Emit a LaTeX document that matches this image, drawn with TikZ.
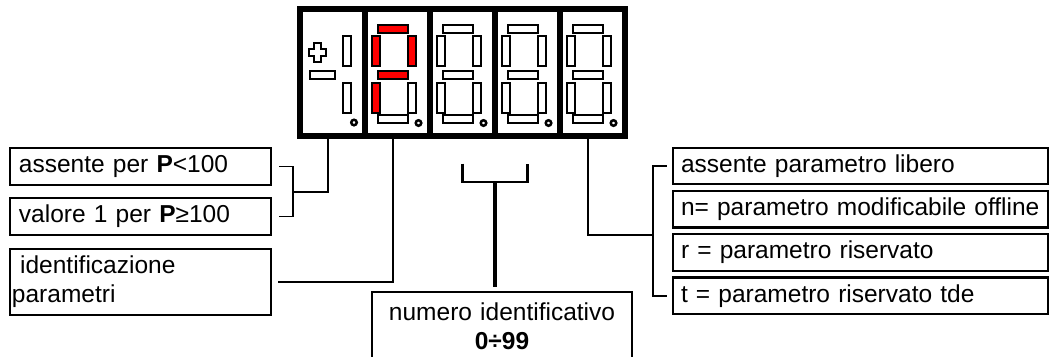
\documentclass[tikz,border=0pt]{standalone}
\usepackage{fontspec}
\setmainfont{Liberation Sans}
\usetikzlibrary{positioning}

\begin{document}
\begin{tikzpicture}[x=0.4pt, y=-0.4pt,
        digit/.style={rectangle, draw, line width=2.1pt, minimum width=26pt, minimum height=50.8pt, inner sep=0pt},
        seg/.style={draw, line width=0.85pt, fill=white},
        segon/.style={seg, fill=red},
        dot/.style={draw, line width=1pt, fill=white},
        note/.style={rectangle, draw, line width=0.9pt, align=left, inner ysep=0pt, font=\fontsize{9.8}{11.6}\selectfont},
        leftnote/.style={note, text width=97.2pt, inner xsep=3.6pt, minimum height=14.8pt},
        rightnote/.style={note, text width=143.6pt, inner xsep=3.2pt, minimum height=14.6pt},
        wire/.style={line width=0.7pt}
    ]
        \useasboundingbox (0,0) rectangle (1050,356);
        \fill[white] (0,0) rectangle (1050,356);

        % Display
        \foreach \cx [count=\i] in {332.5,397.5,462.5,527.5,592.5}
            \node[digit] (dg\i) at (\cx,72.5) {};

        % sign digit
        \draw[seg, line width=1.1pt] (314,43) -- (321,43) -- (321,49) -- (326,49) -- (326,56) -- (321,56) -- (321,62)
            -- (314,62) -- (314,56) -- (309,56) -- (309,49) -- (314,49) -- cycle;
        \draw[seg] (310,71) rectangle (335,79);
        \draw[seg] (343,36) rectangle (351,66);
        \draw[seg] (343,83) rectangle (351,113);
        \draw[dot] (354,122.5) circle (1.1pt);

        % letter P
        \draw[segon] (378,25) rectangle (408,33);
        \draw[segon] (372,36) rectangle (380,66);
        \draw[segon] (408,36) rectangle (416,66);
        \draw[segon] (378,71) rectangle (408,79);
        \draw[segon] (372,83) rectangle (380,113);
        \draw[seg] (408,83) rectangle (416,113);
        \draw[seg] (378,115) rectangle (408,123);
        \draw[dot] (418.5,123) circle (1.1pt);

        % blank digits
        \foreach \l in {430,495,560} {
            \draw[seg] (\l+13,25) rectangle (\l+43,33);
            \draw[seg] (\l+7,36) rectangle (\l+15,66);
            \draw[seg] (\l+43,36) rectangle (\l+51,66);
            \draw[seg] (\l+13,71) rectangle (\l+43,79);
            \draw[seg] (\l+7,83) rectangle (\l+15,113);
            \draw[seg] (\l+43,83) rectangle (\l+51,113);
            \draw[seg] (\l+13,115) rectangle (\l+43,123);
            \draw[dot] (\l+53.5,123) circle (1.1pt);
        }

        % Nodes
        \node[leftnote] (pA) at (140.5,166.5) {assente per \textbf{P}<100};
        \node[leftnote, below=4.3pt of pA] (pB) {valore 1 per \textbf{P}≥100};
        \node[note, text width=102.8pt, inner xsep=0.8pt, minimum height=26.4pt, below=4.7pt of pB] (pC)
            {\ identificazione\\parametri};
        \node[note, align=center, text width=100pt, inner xsep=2pt, minimum height=27.2pt] (pD) at (502,326)
            {numero identificativo\\\textbf{0÷99}};

        \node[rightnote] (r1) at (860.5,166) {assente parametro libero};
        \node[rightnote, below=1.8pt of r1] (r2) {n= parametro modificabile offline};
        \node[rightnote, below=1.8pt of r2] (r3) {r = parametro riservato};
        \node[rightnote, below=1.8pt of r3] (r4) {t = parametro riservato tde};

        % Connectors
        \coordinate (jL) at (293,192);
        \draw[wire] ([xshift=2.8pt]pA.east) -| (jL) |- ([xshift=2.8pt]pB.east);
        \draw[wire] (jL) -| ([xshift=-1.8pt]dg1.south);
        \draw[wire] ([xshift=2.4pt]pC.east) -| ([xshift=-1.8pt]dg2.south);

        \coordinate (nb) at (495,182);
        \draw[line width=0.9pt] ([yshift=-10pt]dg3.south) |- (nb) -| ([yshift=-10pt]dg4.south);
        \draw[line width=1.6pt, shorten >=1.6pt] (nb) -- (nb |- pD.north);

        \coordinate (jR) at (653,235);
        \draw[line width=1pt] ([xshift=-2pt]r1.west) -| (jR) |- ([xshift=-2pt]r4.west);
        \draw[line width=1pt] (jR) -| ([xshift=-1.8pt]dg5.south);
    \end{tikzpicture}
\end{document}
